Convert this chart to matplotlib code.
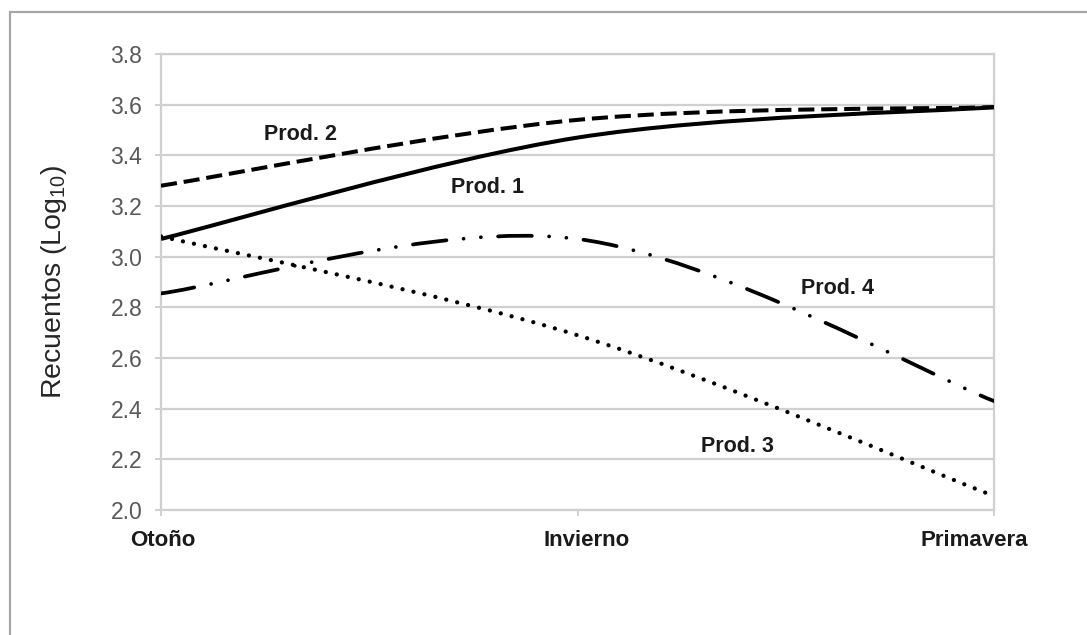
import matplotlib
matplotlib.use("Agg")
import matplotlib.pyplot as plt
from matplotlib.path import Path
from matplotlib.patches import PathPatch, Rectangle
from matplotlib.transforms import ScaledTranslation

plt.rcParams['font.family'] = ['Liberation Sans', 'DejaVu Sans']
plt.rcParams['mathtext.fontset'] = 'custom'
plt.rcParams['mathtext.rm'] = 'Liberation Sans'
plt.rcParams['mathtext.default'] = 'regular'

# ---- data ----
seasons = ["Otoño", "Invierno", "Primavera"]
prod1 = [3.07, 3.47, 3.59]
prod2 = [3.28, 3.54, 3.59]
prod3 = [3.08, 2.69, 2.055]
prod4 = [2.855, 3.07, 2.43]
series_names = ["Prod. 1", "Prod. 2", "Prod. 3", "Prod. 4"]
y_ticks = [2.0, 2.2, 2.4, 2.6, 2.8, 3.0, 3.2, 3.4, 3.6, 3.8]

W, H, DPI = 1087, 635, 100
fig = plt.figure(figsize=(W / DPI, H / DPI), dpi=DPI)
ax = fig.add_axes([161 / W, 1 - 510 / H, (994 - 161) / W, (510 - 54) / H])

# outer chart border (cropped at right and bottom)
fig.patches.append(Rectangle((10 / W, -0.1), 1.2, 1 - 12 / H + 0.1,
                             transform=fig.transFigure, fill=False,
                             edgecolor='#a6a6a6', lw=1.6, zorder=0))


def smooth_path(xs, ys):
    """Excel-like smoothed line: cubic Bezier through the data points."""
    n = len(xs)
    verts = [(xs[0], ys[0])]
    codes = [Path.MOVETO]
    for i in range(n - 1):
        i0 = max(i - 1, 0)
        i3 = min(i + 2, n - 1)
        c1 = (xs[i] + (xs[i + 1] - xs[i0]) / 6, ys[i] + (ys[i + 1] - ys[i0]) / 6)
        c2 = (xs[i + 1] - (xs[i3] - xs[i]) / 6, ys[i + 1] - (ys[i3] - ys[i]) / 6)
        verts += [c1, c2, (xs[i + 1], ys[i + 1])]
        codes += [Path.CURVE4] * 3
    return Path(verts, codes)


xs = list(range(len(seasons)))
styles = [
    dict(linestyle='-', lw=2.9, capstyle='butt'),
    dict(linestyle=(0, (4.0, 1.7)), lw=2.9, capstyle='butt'),
    dict(linestyle=(0, (0.01, 2.6)), lw=3.1, capstyle='round'),
    dict(linestyle=(0, (9.0, 4.6, 0.01, 4.6, 0.01, 4.6)), lw=2.7, capstyle='round'),
]
for vals, st in zip([prod1, prod2, prod3, prod4], styles):
    p = PathPatch(smooth_path(xs, vals), fill=False, edgecolor='black',
                  lw=st['lw'], linestyle=st['linestyle'], zorder=3)
    p.set_capstyle(st['capstyle'])
    ax.add_patch(p)

ax.set_xlim(0, len(seasons) - 1)
ax.set_ylim(y_ticks[0], y_ticks[-1])
ax.set_yticks(y_ticks)
ax.set_yticklabels([f"{v:.1f}" for v in y_ticks], fontsize=16.5, color='#595959')
ax.set_xticks(xs)
ax.set_xticklabels(seasons, fontsize=16, fontweight='bold', color='#1a1a1a')
ax.tick_params(axis='y', length=4.5, width=1.2, color='#c8c8c8', pad=9)
ax.tick_params(axis='x', length=4.5, width=1.2, color='#c8c8c8', pad=10)
for lab, dx in zip(ax.get_xticklabels(), [2, 9, -20]):
    lab.set_transform(lab.get_transform() + ScaledTranslation(dx / DPI, 0, fig.dpi_scale_trans))

ax.grid(axis='y', color='#d0d0d0', lw=1.6)
ax.set_axisbelow(True)
for s in ax.spines.values():
    s.set_color('#d0d0d0')
    s.set_linewidth(1.6)

ax.set_ylabel("Recuentos (Log$_{10}$)", fontsize=20.5, color='#262626', labelpad=30)

# series labels
label_pos = {"Prod. 1": (0.783, 3.275), "Prod. 2": (0.335, 3.484),
             "Prod. 3": (1.385, 2.25), "Prod. 4": (1.625, 2.875)}
for name in series_names:
    x, y = label_pos[name]
    ax.text(x, y, name, fontsize=15.5, fontweight='bold', color='#1a1a1a',
            ha='center', va='center')

fig.savefig("out.png", dpi=DPI)
